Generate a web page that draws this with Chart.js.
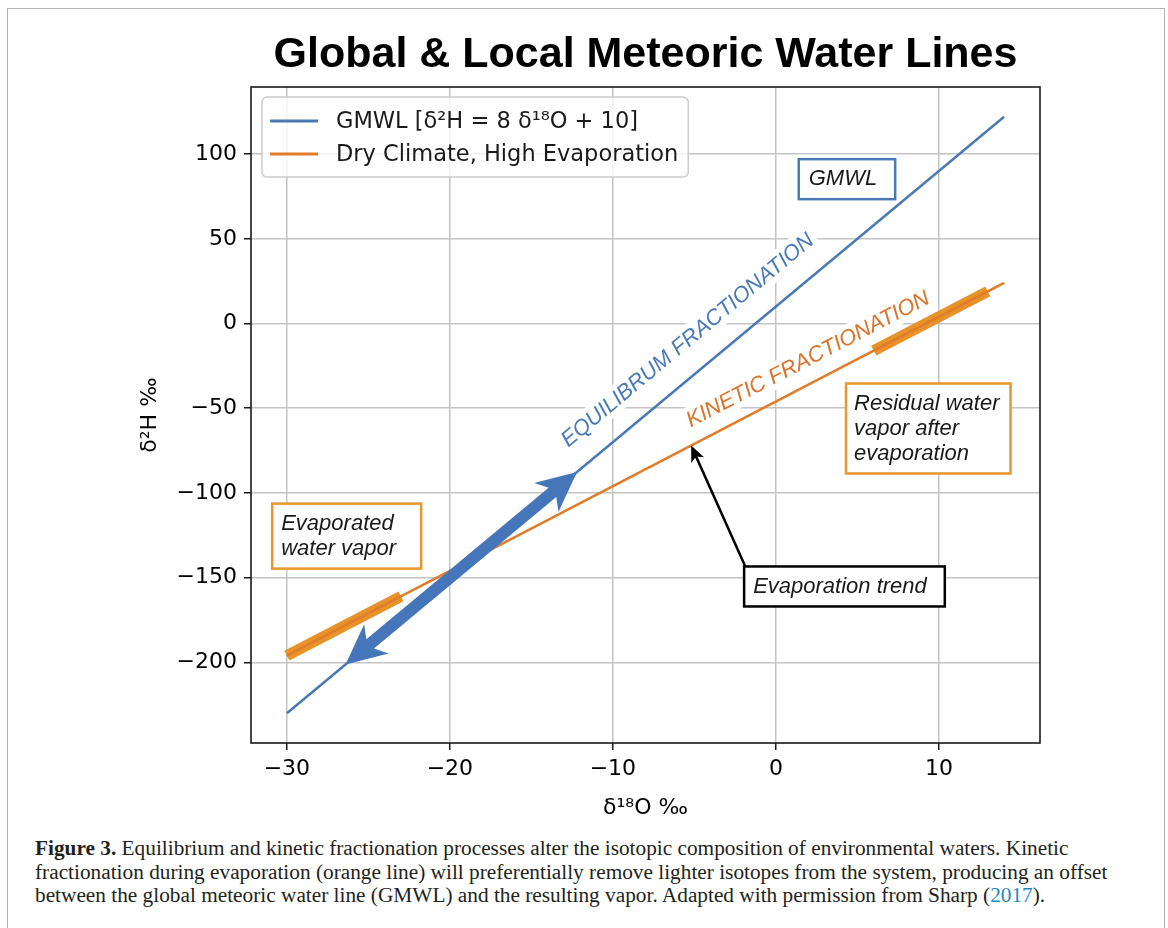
<!DOCTYPE html>
<html>
<head>
<meta charset="utf-8">
<title>Global & Local Meteoric Water Lines</title>
<script src="https://cdn.jsdelivr.net/npm/chart.js@4.4.1/dist/chart.umd.min.js"></script>
<style>
    html, body { margin: 0; padding: 0; background: #fff; width: 1168px; height: 928px; overflow: hidden; }
    #frame { position: absolute; left: 7px; top: 8px; width: 1158px; height: 1000px; border: 1px solid #b4b4b4; box-sizing: border-box; }
    #wrap { position: absolute; left: 0; top: 0; width: 1168px; height: 830px; }
    #caption { position: absolute; left: 35px; top: 837px; font-family: 'Liberation Serif', 'Times New Roman', serif;
               font-size: 21.3px; line-height: 23.5px; color: #231f20; white-space: nowrap; }
    #caption a { color: #1e8bc3; text-decoration: none; }
</style>
</head>
<body>
<div id="frame"></div>
<div id="wrap"><canvas id="chart" width="1168" height="830"></canvas></div>
<div id="caption"><b>Figure 3.</b> Equilibrium and kinetic fractionation processes alter the isotopic composition of environmental waters. Kinetic<br>fractionation during evaporation (orange line) will preferentially remove lighter isotopes from the system, producing an offset<br>between the global meteoric water line (GMWL) and the resulting vapor. Adapted with permission from Sharp (<a>2017</a>).</div>

<script>
// --- Data ---

const xTicks = [-30, -20, -10, 0, 10];
const xTickLabels = ['\u221230', '\u221220', '\u221210', '0', '10'];
const yTicks = [-200, -150, -100, -50, 0, 50, 100];
const yTickLabels = ['\u2212200', '\u2212150', '\u2212100', '\u221250', '0', '50', '100'];

// GMWL: d2H = 8 d18O + 10
const gmwlX = [-30, 14];
const gmwlY = [-230, 122];
// dry climate / high evaporation line
const dryX = [-30, 14];
const dryY = [-196, 24];
// thick parts of the dry line
const evapVaporX = [-30, -23];
const evapVaporY = [-196, -161];
const residualX = [6, 13];
const residualY = [-16, 19];
// double arrow along the GMWL (lower tip, upper tip)
const eqArrowX = [-26.4, -12.2];
const eqArrowY = [-201.2, -87.6];
// evaporation trend arrow (tail, head)
const trendArrowX = [-1.85, -5.2];
const trendArrowY = [-144, -72];

const X_MIN = -32.2, X_MAX = 16.2;
const Y_MIN = -247.6, Y_MAX = 139.6;

const BLUE = '#4a7ab6';
const ORANGE = '#e07c2a';
const GOLD = '#e8922a';

function pts(xs, ys) {
    return xs.map((x, i) => ({ x: x, y: ys[i] }));
}

// --- Annotations (anchored in data units) ---

const rotatedLabels = [
    { text: 'EQUILIBRUM FRACTIONATION', x: -5.4, y: -10.0, color: BLUE, along: [gmwlX, gmwlY] },
    { text: 'KINETIC FRACTIONATION', x: 1.97, y: -21.3, color: '#d9742a', along: [dryX, dryY] }
];

const boxes = [
    { lines: ['GMWL'], x: 1.4, y: 97.0, edge: BLUE, padL: 10, padR: 18 },
    { lines: ['Residual water', 'vapor after', 'evaporation'], x: 4.3, y: -35.4, edge: '#e8962e', padL: 8, padR: 11 },
    { lines: ['Evaporated', 'water vapor'], x: -30.9, y: -106.3, edge: '#e8962e', padL: 9, padR: 25 },
    { lines: ['Evaporation trend'], x: -1.95, y: -143.4, edge: '#000000', padL: 9, padR: 18 }
];

const NOTE_FONT = 'italic 22px "Liberation Sans", Arial, sans-serif';
const TICK_FONT = { family: '"DejaVu Sans", sans-serif', size: 22 };

// --- Drawing helpers ---

function fillArrowHead(ctx, tipX, tipY, ux, uy, len, half, notch) {
    const nx = -uy, ny = ux;
    ctx.beginPath();
    ctx.moveTo(tipX, tipY);
    ctx.lineTo(tipX - ux * len + nx * half, tipY - uy * len + ny * half);
    ctx.lineTo(tipX - ux * (len - notch), tipY - uy * (len - notch));
    ctx.lineTo(tipX - ux * len - nx * half, tipY - uy * len - ny * half);
    ctx.closePath();
    ctx.fill();
}

function drawDoubleArrow(ctx, x1, y1, x2, y2, shaft, head, headLen, notch) {
    const dx = x2 - x1, dy = y2 - y1, len = Math.hypot(dx, dy);
    const ux = dx / len, uy = dy / len, nx = -uy, ny = ux;
    const P = (t, s) => [x1 + ux * t + nx * s, y1 + uy * t + ny * s];
    const poly = [
        P(0, 0), P(headLen, head), P(headLen - notch, shaft),
        P(len - headLen + notch, shaft), P(len - headLen, head), P(len, 0),
        P(len - headLen, -head), P(len - headLen + notch, -shaft),
        P(headLen - notch, -shaft), P(headLen, -head)
    ];
    ctx.beginPath();
    poly.forEach((p, i) => i ? ctx.lineTo(p[0], p[1]) : ctx.moveTo(p[0], p[1]));
    ctx.closePath();
    ctx.fill();
}

function roundRect(ctx, x, y, w, h, r) {
    ctx.beginPath();
    ctx.moveTo(x + r, y);
    ctx.arcTo(x + w, y, x + w, y + h, r);
    ctx.arcTo(x + w, y + h, x, y + h, r);
    ctx.arcTo(x, y + h, x, y, r);
    ctx.arcTo(x, y, x + w, y, r);
    ctx.closePath();
}

const notesPlugin = {
    id: 'notes',
    beforeDatasetsDraw(chart) {
        const ctx = chart.ctx;
        const xs = chart.scales.x, ys = chart.scales.y;
        ctx.save();
        ctx.font = NOTE_FONT;
        rotatedLabels.forEach(lab => {
            const [lx, ly] = lab.along;
            const ang = Math.atan2(ys.getPixelForValue(ly[1]) - ys.getPixelForValue(ly[0]),
                                   xs.getPixelForValue(lx[1]) - xs.getPixelForValue(lx[0]));
            const cx = xs.getPixelForValue(lab.x), cy = ys.getPixelForValue(lab.y);
            const w = ctx.measureText(lab.text).width;
            ctx.save();
            ctx.translate(cx, cy);
            ctx.rotate(ang);
            ctx.fillStyle = '#ffffff';
            ctx.fillRect(-w / 2 - 4, -14, w + 8, 26);
            ctx.fillStyle = lab.color;
            ctx.textAlign = 'center';
            ctx.textBaseline = 'middle';
            ctx.fillText(lab.text, 0, 0);
            ctx.restore();
        });
        ctx.restore();
    },
    afterDatasetsDraw(chart) {
        const ctx = chart.ctx;
        const xs = chart.scales.x, ys = chart.scales.y;
        const area = chart.chartArea;
        ctx.save();

        // blue double arrow
        ctx.fillStyle = '#4676ba';
        drawDoubleArrow(ctx,
            xs.getPixelForValue(eqArrowX[0]), ys.getPixelForValue(eqArrowY[0]),
            xs.getPixelForValue(eqArrowX[1]), ys.getPixelForValue(eqArrowY[1]),
            6, 19, 40, 8);

        // black evaporation trend arrow
        const tx = xs.getPixelForValue(trendArrowX[0]), ty = ys.getPixelForValue(trendArrowY[0]);
        const hx = xs.getPixelForValue(trendArrowX[1]), hy = ys.getPixelForValue(trendArrowY[1]);
        const L = Math.hypot(hx - tx, hy - ty), ux = (hx - tx) / L, uy = (hy - ty) / L;
        ctx.strokeStyle = '#000';
        ctx.fillStyle = '#000';
        ctx.lineWidth = 2.5;
        ctx.beginPath();
        ctx.moveTo(tx, ty);
        ctx.lineTo(hx - ux * 10, hy - uy * 10);
        ctx.stroke();
        fillArrowHead(ctx, hx, hy, ux, uy, 16, 7, 4);

        // text boxes
        ctx.font = NOTE_FONT;
        ctx.textBaseline = 'middle';
        ctx.textAlign = 'left';
        boxes.forEach(b => {
            const bx = xs.getPixelForValue(b.x), by = ys.getPixelForValue(b.y);
            const tw = Math.max(...b.lines.map(s => ctx.measureText(s).width));
            const bw = b.padL + tw + b.padR, bh = b.lines.length * 25 + 15;
            ctx.fillStyle = '#fff';
            ctx.fillRect(bx, by, bw, bh);
            ctx.strokeStyle = b.edge;
            ctx.lineWidth = 2.5;
            ctx.strokeRect(bx, by, bw, bh);
            ctx.fillStyle = '#1a1a1a';
            b.lines.forEach((s, i) => ctx.fillText(s, bx + b.padL, by + 7.5 + 12.5 + i * 25));
        });

        // legend
        const sets = chart.data.datasets.slice(0, 2);
        ctx.font = '22.5px "DejaVu Sans", sans-serif';
        const lw = Math.max(...sets.map(d => ctx.measureText(d.label).width));
        const lx = area.left + 11, ly = area.top + 10;
        const boxW = 8 + 48 + 18 + lw + 10, boxH = 80;
        roundRect(ctx, lx, ly, boxW, boxH, 5);
        ctx.fillStyle = 'rgba(255,255,255,0.8)';
        ctx.fill();
        ctx.strokeStyle = '#cccccc';
        ctx.lineWidth = 1.5;
        ctx.stroke();
        sets.forEach((d, i) => {
            const rowY = ly + 24 + i * 33;
            ctx.strokeStyle = d.borderColor;
            ctx.lineWidth = 3;
            ctx.beginPath();
            ctx.moveTo(lx + 8, rowY);
            ctx.lineTo(lx + 56, rowY);
            ctx.stroke();
            ctx.fillStyle = '#1a1a1a';
            ctx.fillText(d.label, lx + 74, rowY + 1);
        });

        // plot frame
        ctx.strokeStyle = '#1a1a1a';
        ctx.lineWidth = 1.6;
        ctx.strokeRect(area.left, area.top, area.right - area.left, area.bottom - area.top);
        ctx.restore();
    }
};

// --- Chart ---

const ctx = document.getElementById('chart').getContext('2d');

new Chart(ctx, {
    type: 'scatter',
    data: {
        datasets: [
            { label: 'GMWL [\u03b4\u00b2H = 8 \u03b4\u00b9\u2078O + 10]', data: pts(gmwlX, gmwlY),
              borderColor: BLUE, borderWidth: 2.5 },
            { label: 'Dry Climate, High Evaporation', data: pts(dryX, dryY),
              borderColor: ORANGE, borderWidth: 2.5 },
            { label: 'evaporated vapor', data: pts(evapVaporX, evapVaporY),
              borderColor: GOLD, borderWidth: 11, borderCapStyle: 'butt' },
            { label: 'residual vapor', data: pts(residualX, residualY),
              borderColor: GOLD, borderWidth: 11, borderCapStyle: 'butt' }
        ].map(d => Object.assign({ showLine: true, pointRadius: 0, pointHoverRadius: 0, fill: false }, d))
    },
    options: {
        responsive: false,
        animation: false,
        devicePixelRatio: 1,
        events: [],
        layout: { padding: { left: 110, right: 128, top: 0, bottom: 0 } },
        scales: {
            x: {
                type: 'linear',
                min: X_MIN,
                max: X_MAX,
                afterBuildTicks: (scale) => { scale.ticks = xTicks.map(v => ({ value: v })); },
                afterFit: (scale) => { scale.height = 87; },
                ticks: {
                    autoSkip: false, maxRotation: 0, padding: 6, color: '#000', font: TICK_FONT,
                    callback: (v, i) => xTickLabels[i]
                },
                grid: { color: '#c4c4c4', lineWidth: 1.5, tickColor: '#1a1a1a', tickLength: 7, tickWidth: 1.5 },
                border: { display: false },
                title: {
                    display: true, text: '\u03b4\u00b9\u2078O \u2030', color: '#000',
                    font: { family: '"DejaVu Sans", sans-serif', size: 22 }, padding: { top: 0, bottom: 9 }
                }
            },
            y: {
                type: 'linear',
                min: Y_MIN,
                max: Y_MAX,
                afterBuildTicks: (scale) => { scale.ticks = yTicks.map(v => ({ value: v })); },
                afterFit: (scale) => { scale.width = 141; },
                ticks: {
                    autoSkip: false, padding: 7, color: '#000', font: TICK_FONT,
                    callback: (v, i) => yTickLabels[i]
                },
                grid: { color: '#c4c4c4', lineWidth: 1.5, tickColor: '#1a1a1a', tickLength: 7, tickWidth: 1.5 },
                border: { display: false },
                title: {
                    display: true, text: '\u03b4\u00b2H \u2030', color: '#000',
                    font: { family: '"DejaVu Sans", sans-serif', size: 22 }, padding: { top: 27, bottom: 0 }
                }
            }
        },
        plugins: {
            legend: { display: false },
            tooltip: { enabled: false },
            title: {
                display: true,
                fullSize: false,
                text: 'Global & Local Meteoric Water Lines',
                color: '#000',
                font: { family: '"Liberation Sans", Arial, sans-serif', size: 43, weight: 'bold', lineHeight: 1.2 },
                padding: { top: 29, bottom: 6.4 }
            }
        }
    },
    plugins: [notesPlugin]
});
</script>
</body>
</html>
